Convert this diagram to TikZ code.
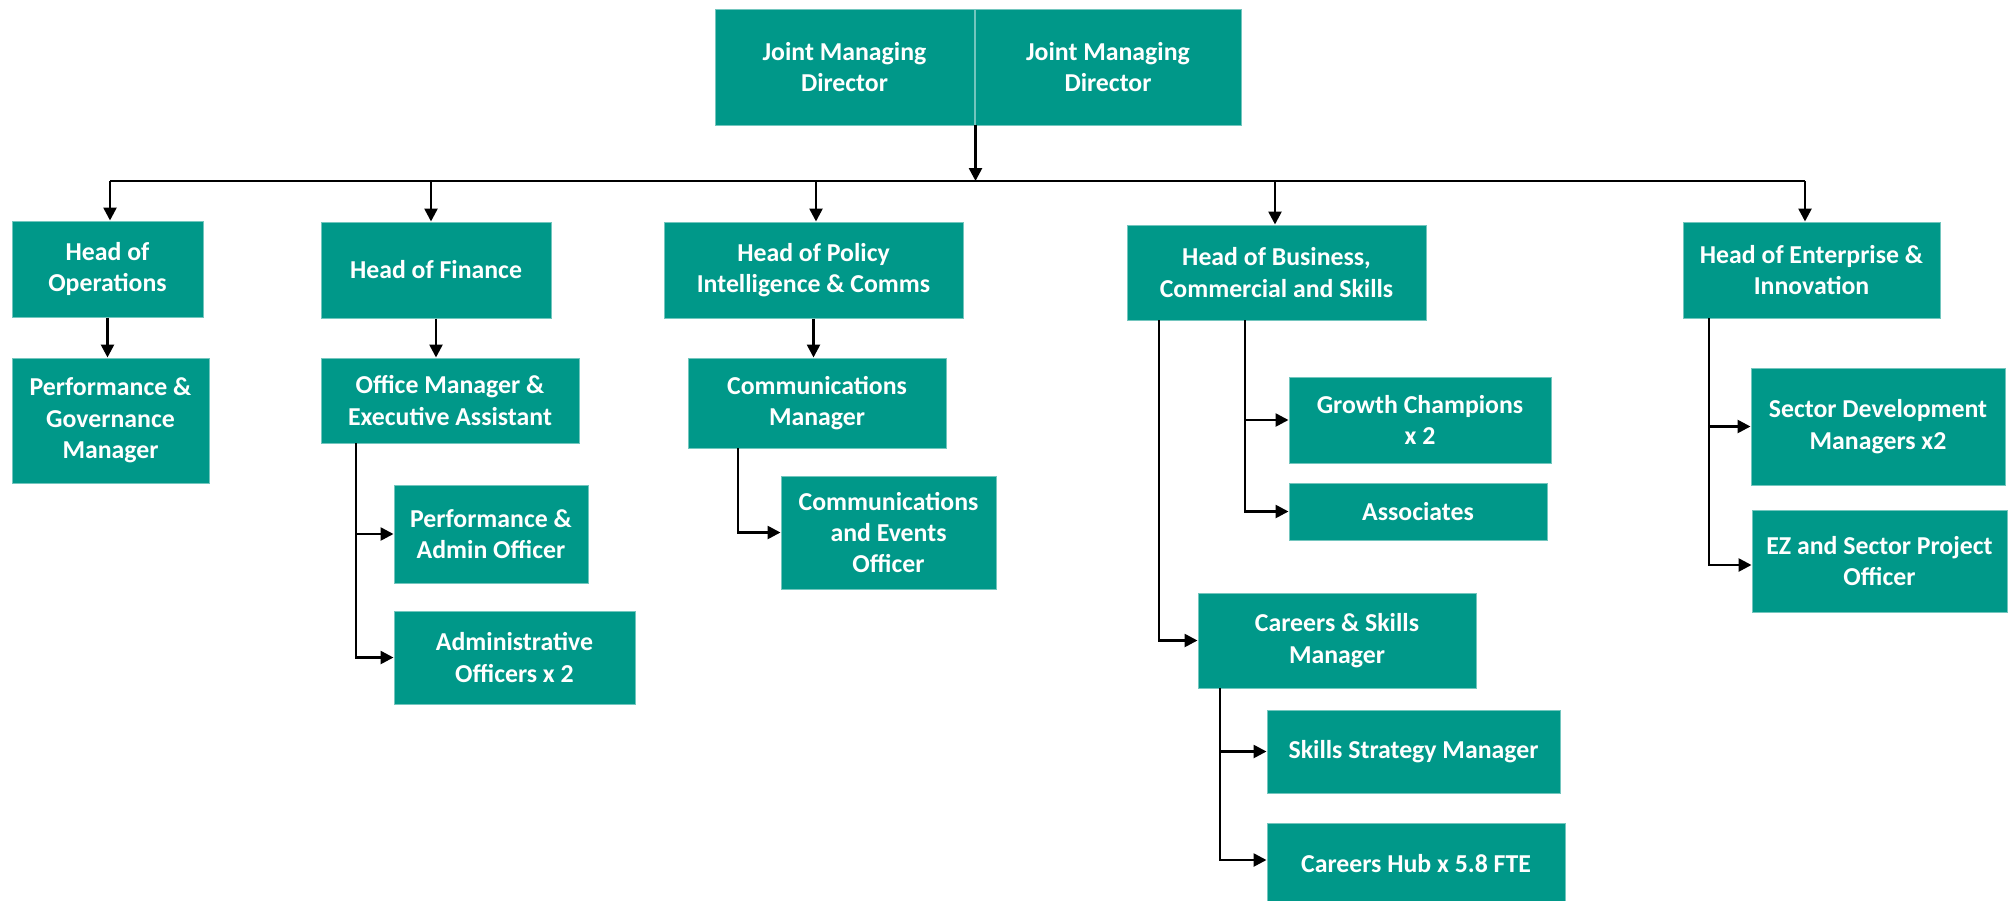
\documentclass[tikz,border=0pt]{standalone}
\usepackage{fontspec}
\setmainfont{Carlito}
\usetikzlibrary{arrows.meta}
\definecolor{tealc}{RGB}{0,152,137}
\tikzset{
  box/.style={fill=tealc, draw=tealc!55!white, line width=0.5pt, text=white,
    font=\bfseries\fontsize{12.9}{15.7}\selectfont, align=center, inner sep=0pt},
  arr/.style={line width=1.3pt, -{Triangle[length=6.5pt,width=6.5pt]}},
  ln/.style={line width=1.3pt}
}
\begin{document}
\begin{tikzpicture}[x=0.5pt,y=-0.5pt]
\useasboundingbox (0,0) rectangle (2013,900);
% top
\node[box, minimum width=129.5pt, minimum height=58pt] (jmd1) at (844.5,67) {Joint Managing\\Director};
\node[box, minimum width=133pt, minimum height=58pt] (jmd2) at (1108,67) {Joint Managing\\Director};
% heads
\node[box, minimum width=95.5pt, minimum height=48pt] (hops) at (107.5,269) {Head of\\Operations};
\node[box, minimum width=115pt, minimum height=48pt] (hfin) at (436,270) {Head of Finance};
\node[box, minimum width=149.5pt, minimum height=48pt] (hpol) at (813.5,270) {Head of Policy\\Intelligence \& Comms};
\node[box, minimum width=149.5pt, minimum height=47.5pt] (hbus) at (1276.5,272.5) {Head of Business,\\Commercial and Skills};
\node[box, minimum width=128.5pt, minimum height=48pt] (hent) at (1811.5,270) {Head of Enterprise \&\\Innovation};
% second level
\node[box, minimum width=98.5pt, minimum height=62.5pt] (pgov) at (110.5,420.5) {Performance \&\\Governance\\Manager};
\node[box, minimum width=129pt, minimum height=42.5pt] (om) at (450,400.5) {Office Manager \&\\Executive Assistant};
\node[box, minimum width=97pt, minimum height=49pt] (padm) at (491,534) {Performance \&\\Admin Officer};
\node[box, minimum width=120.5pt, minimum height=46.5pt] (aoff) at (514.5,657.5) {Administrative\\Officers x 2};
\node[box, minimum width=129pt, minimum height=45pt] (cmgr) at (817,403) {Communications\\Manager};
\node[box, minimum width=107.5pt, minimum height=56.5pt] (cev) at (888.5,532.5) {Communications\\and Events\\Officer};
\node[box, minimum width=131pt, minimum height=43pt] (gch) at (1420,420) {Growth Champions\\x 2};
\node[box, minimum width=129pt, minimum height=28.5pt] (asc) at (1418,511.5) {Associates};
\node[box, minimum width=139pt, minimum height=47.5pt] (csm) at (1337,640.5) {Careers \& Skills\\Manager};
\node[box, minimum width=146.5pt, minimum height=41.5pt] (ssm) at (1413.5,751.5) {Skills Strategy Manager};
\node[box, minimum width=149pt, minimum height=41pt] (chub) at (1416,864) {Careers Hub x 5.8 FTE};
\node[box, minimum width=127pt, minimum height=58.5pt] (sdev) at (1878,426.5) {Sector Development\\Managers x2};
\node[box, minimum width=127.5pt, minimum height=51pt] (ez) at (1879.5,561) {EZ and Sector Project\\Officer};
% bus
\coordinate (top) at (975.5,125);
\coordinate (bus) at (975.5,181);
\coordinate (busL) at (110,181);
\coordinate (busR) at (1805,181);
\draw[arr] (top) -- (bus);
\draw[ln] (busL) -- (busR);
\coordinate (b1) at (110,181);
\coordinate (b2) at (431,181);
\coordinate (b3) at (816,181);
\coordinate (b4) at (1275,181);
\coordinate (b5) at (1805,181);
\draw[arr] (b1) -- (b1 |- hops.north);
\draw[arr] (b2) -- (b2 |- hfin.north);
\draw[arr] (b3) -- (b3 |- hpol.north);
\draw[arr] (b4) -- (b4 |- hbus.north);
\draw[arr] (b5) -- (b5 |- hent.north);
% second level connectors
\draw[arr] (hops.south) -- (hops.south |- pgov.north);
\draw[arr] (hfin.south) -- (hfin.south |- om.north);
\draw[arr] (hpol.south) -- (hpol.south |- cmgr.north);
\coordinate (omL) at (356,443);
\draw[arr] (omL) |- (padm.west);
\draw[arr] (omL) |- (aoff.west);
\coordinate (cmL) at (738,448);
\draw[arr] (cmL) |- (cev.west);
\coordinate (hbL) at (1159,320);
\coordinate (hbM) at (1245,320);
\draw[arr] (hbL) |- (csm.west);
\draw[arr] (hbM) |- (gch.west);
\draw[arr] (hbM) |- (asc.west);
\coordinate (csL) at (1220,688);
\draw[arr] (csL) |- (ssm.west);
\draw[arr] (csL) |- ([yshift=2pt]chub.west);
\coordinate (heL) at (1709,318);
\draw[arr] (heL) |- (sdev.west);
\draw[arr] (heL) |- ([yshift=-2pt]ez.west);
\end{tikzpicture}
\end{document}
